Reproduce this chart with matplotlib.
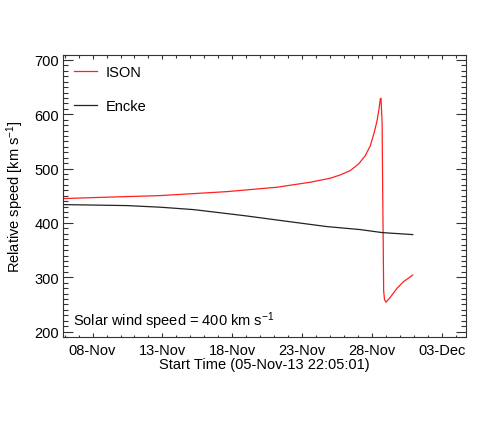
import datetime as dt
import matplotlib
matplotlib.use('Agg')
import matplotlib.pyplot as plt
import matplotlib.dates as mdates
from matplotlib.ticker import MultipleLocator

plt.rcParams['font.family'] = ['Liberation Sans', 'DejaVu Sans']
plt.rcParams['mathtext.fontset'] = 'custom'
plt.rcParams['mathtext.rm'] = 'Liberation Sans'
plt.rcParams['mathtext.default'] = 'regular'

# day of November (Nov 8.0 = 08-Nov 00:00)
ison_day = [5.92, 8.07, 12.85, 17.62, 21.20, 23.58, 25.01, 25.73, 26.44, 27.04,
            27.52, 27.88, 28.16, 28.36, 28.50, 28.59, 28.64, 28.72, 28.76, 28.80,
            28.83, 28.89, 29.00, 29.31, 29.79, 30.26, 30.91]
ison_speed = [444.8, 446.6, 450.3, 457.6, 465.7, 474.9, 482.3, 488.4, 496.3, 508.6,
              523.9, 542.3, 566.9, 588.3, 609.8, 628.2, 629.5, 585.0, 462.6, 360.0,
              275.0, 259.0, 254.1, 263.3, 279.8, 292.0, 304.0]

encke_day = [5.92, 10.46, 12.86, 15.23, 18.81, 22.39, 24.78, 27.16, 28.72, 30.91]
encke_speed = [433.7, 431.9, 428.9, 424.5, 413.5, 401.3, 393.2, 387.7, 382.2, 378.5]

tick_days = [8, 13, 18, 23, 28, 33]
x_start = 5.92
x_end = 34.72

base = dt.datetime(2013, 11, 1)


def to_date(d):
    return base + dt.timedelta(days=d - 1)


fig = plt.figure(figsize=(4.91, 4.35), dpi=100)
ax = fig.add_axes([0.1293, 0.223, 0.8197, 0.6494])

ax.plot([to_date(d) for d in ison_day], ison_speed, color='#ff2020', lw=0.9, label='ISON')
ax.plot([to_date(d) for d in encke_day], encke_speed, color='#222222', lw=0.9, label='Encke')

ax.set_xlim(to_date(x_start), to_date(x_end))
ax.set_ylim(190, 710)

ax.set_xticks([to_date(d) for d in tick_days])
ax.xaxis.set_major_formatter(mdates.DateFormatter('%d-%b'))
ax.xaxis.set_minor_locator(mdates.DayLocator())
ax.yaxis.set_major_locator(MultipleLocator(100))
ax.yaxis.set_minor_locator(MultipleLocator(10))

ax.tick_params(axis='both', which='both', direction='in', top=True, right=True,
               labelsize=10.5, colors='#333333', labelcolor='black')
ax.tick_params(axis='y', which='major', length=7.0, width=0.8, pad=3)
ax.tick_params(axis='y', which='minor', length=3.6, width=0.8)
ax.tick_params(axis='x', which='major', length=3.0, width=0.8, pad=4)
ax.tick_params(axis='x', which='minor', length=1.8, width=0.8)
for s in ax.spines.values():
    s.set_color('#333333')
    s.set_linewidth(0.8)

ax.set_xlabel('Start Time (05-Nov-13 22:05:01)', fontsize=10.5, labelpad=0)
ax.set_ylabel('Relative speed [km s$^{-1}$]', fontsize=10.5, labelpad=6)

ax.text(0.024, 0.041, 'Solar wind speed = 400 km s$^{-1}$', transform=ax.transAxes,
        fontsize=10.5, va='baseline', ha='left')

ax.legend(loc='upper left', bbox_to_anchor=(0.025, 0.962), frameon=False, fontsize=10.5,
          handlelength=1.6, handletextpad=0.6, labelspacing=1.35, borderpad=0, borderaxespad=0)

fig.savefig('out.png', dpi=100)
